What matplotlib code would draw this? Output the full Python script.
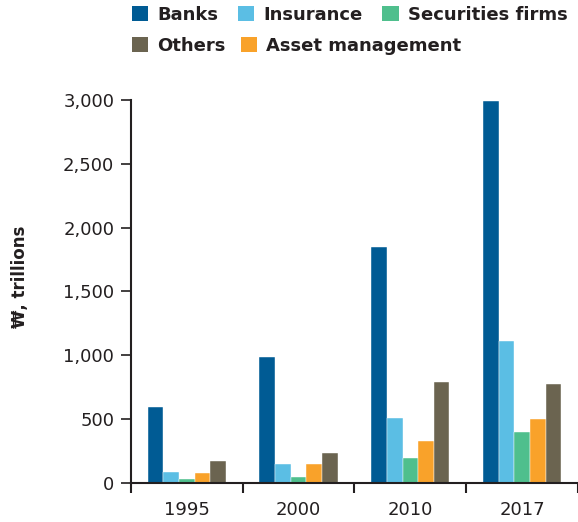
"""Financial assets by sector, in trillions of won."""

import matplotlib.pyplot as plt
import numpy as np
from matplotlib.patches import Patch
from matplotlib.ticker import FuncFormatter

YEARS = ["1995", "2000", "2010", "2017"]
SECTORS = ["Banks", "Insurance", "Securities firms", "Asset management", "Others"]
BANKS = [596, 985, 1845, 2990]
INSURANCE = [84, 149, 507, 1113]
SECURITIES = [29, 42, 191, 397]
ASSET_MGMT = [76, 147, 327, 499]
OTHERS = [170, 230, 787, 771]

COLORS = {
    "Banks": "#005b94",
    "Insurance": "#5bbee4",
    "Securities firms": "#4fbf8d",
    "Asset management": "#f9a22a",
    "Others": "#6b6450",
}
TEXT = "#231f20"

plt.rcParams["font.family"] = ["DejaVu Sans"]


def main() -> None:
    series = [BANKS, INSURANCE, SECURITIES, ASSET_MGMT, OTHERS]
    x = np.arange(len(YEARS))
    width = 0.14

    fig = plt.figure(figsize=(5.78, 5.22), dpi=100)
    ax = fig.add_axes([0.2266, 0.0753, 0.7734, 0.7331])

    for i, (name, vals) in enumerate(zip(SECTORS, series)):
        offset = (i - 2) * width
        ax.bar(x + offset, vals, width, color=COLORS[name],
               edgecolor="white", linewidth=0.3)

    ax.set_xlim(-0.5, len(YEARS) - 0.5)
    ax.set_ylim(0, 3000)
    ax.set_yticks(np.arange(0, 3001, 500))
    ax.yaxis.set_major_formatter(FuncFormatter(lambda v, _: f"{v:,.0f}"))
    ax.set_xticks(x)
    ax.set_xticklabels(YEARS)
    ax.set_xticks(np.arange(-0.5, len(YEARS)), minor=True)
    ax.tick_params(axis="x", which="major", length=0, pad=13,
                   labelsize=13, colors=TEXT)
    ax.tick_params(axis="x", which="minor", length=7, width=1.5,
                   color=TEXT)
    ax.tick_params(axis="y", length=7, width=1.2, pad=5,
                   labelsize=13, colors=TEXT)

    for side in ("top", "right"):
        ax.spines[side].set_visible(False)
    for side in ("left", "bottom"):
        ax.spines[side].set_linewidth(1.5)
        ax.spines[side].set_color(TEXT)

    ax.set_ylabel("₩, trillions", fontsize=12, fontweight="bold", color=TEXT)
    ax.yaxis.set_label_coords(-0.228, 0.538)

    def handles(names):
        return [Patch(facecolor=COLORS[n], label=n) for n in names]

    common = dict(frameon=False, handlelength=0.9, handleheight=0.9,
                  handletextpad=0.5, borderaxespad=0, borderpad=0,
                  prop={"weight": "bold", "size": 13})
    leg1 = fig.legend(handles=handles(["Banks", "Insurance", "Securities firms"]),
                      ncol=3, loc="upper left", bbox_to_anchor=(0.228, 0.989),
                      columnspacing=1.1, **common)
    leg2 = fig.legend(handles=handles(["Others", "Asset management"]),
                      ncol=2, loc="upper left", bbox_to_anchor=(0.228, 0.93),
                      columnspacing=0.85, **common)
    for leg in (leg1, leg2):
        for t in leg.get_texts():
            t.set_color(TEXT)

    fig.savefig("out.png", dpi=100)


if __name__ == "__main__":
    main()
